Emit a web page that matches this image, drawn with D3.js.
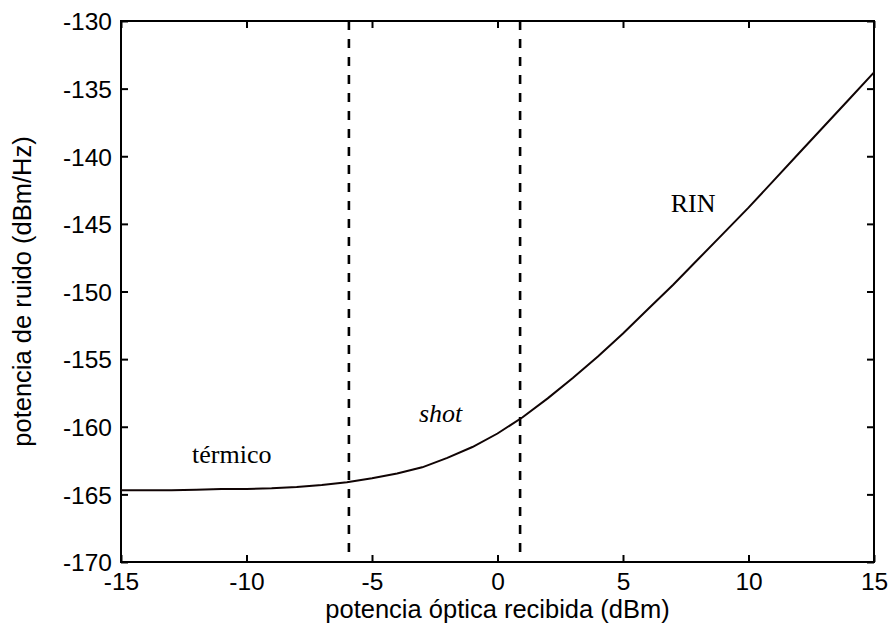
<!DOCTYPE html>
<html>
<head>
<meta charset="utf-8">
<script src="https://cdn.jsdelivr.net/npm/d3@7"></script>
<style>
  body { margin: 0; background: #fff; }
  .tick text { font-family: "Liberation Sans", Arial, sans-serif; font-size: 24.5px; fill: #000; }
  .aText { font-family: "Liberation Sans", Arial, sans-serif; font-size: 25.5px; fill: #000; }
  .note { font-family: "Liberation Serif", "Times New Roman", serif; font-size: 26px; fill: #000; }
</style>
</head>
<body>
<div id="chart"></div>
<script>
// received optical power (dBm) and noise power (dBm/Hz)
var potencia = [-15, -14, -13, -12, -11, -10, -9, -8, -7, -6, -5, -4, -3, -2, -1, 0,
                1, 2, 3, 4, 5, 6, 7, 8, 9, 10, 11, 12, 13, 14, 15];
var ruido = [-164.7, -164.7, -164.7, -164.65, -164.6, -164.6, -164.55, -164.45, -164.3, -164.1,
             -163.8, -163.45, -163.0, -162.3, -161.5, -160.5, -159.3, -157.9, -156.4, -154.8,
             -153.1, -151.3, -149.5, -147.6, -145.7, -143.8, -141.8, -139.8, -137.8, -135.8, -133.8];

// region limits (dashed lines)
var limites = [-5.92, 0.9];

// annotations: text, x, y in data units
var notas = ["térmico", "shot", "RIN"];
var notasX = [-12.17, -3.13, 6.9];
var notasY = [-162.67, -159.62, -144.09];
var notasItalic = [false, true, false];

var xTicks = [-15, -10, -5, 0, 5, 10, 15];
var yTicks = [-170, -165, -160, -155, -150, -145, -140, -135, -130];

var svgWidth = 892;
var svgHeight = 625;
var margin = { top: 21, right: 18, bottom: 63, left: 121 };
var width = svgWidth - margin.left - margin.right;
var height = svgHeight - margin.top - margin.bottom;

var svg = d3.select("#chart")
  .append("svg")
  .attr("width", svgWidth)
  .attr("height", svgHeight);

var chartGroup = svg.append("g")
  .attr("transform", `translate(${margin.left}, ${margin.top})`);

var x = d3.scaleLinear().domain([-15, 15]).range([0, width]);
var y = d3.scaleLinear().domain([-170, -130]).range([height, 0]);

// plain hyphen for negatives, like the original
var fmt = d => String(d);

// axes with inward ticks
var bottomAxis = d3.axisBottom(x).tickValues(xTicks).tickFormat(fmt).tickSizeInner(-7).tickSizeOuter(0).tickPadding(13);
var leftAxis = d3.axisLeft(y).tickValues(yTicks).tickFormat(fmt).tickSizeInner(-7).tickSizeOuter(0).tickPadding(9);
var topAxis = d3.axisTop(x).tickValues(xTicks).tickSizeInner(-7).tickSizeOuter(0).tickFormat("");
var rightAxis = d3.axisRight(y).tickValues(yTicks).tickSizeInner(-7).tickSizeOuter(0).tickFormat("");

var gx = chartGroup.append("g").attr("transform", `translate(0, ${height})`).call(bottomAxis);
var gy = chartGroup.append("g").call(leftAxis);
var gt = chartGroup.append("g").call(topAxis);
var gr = chartGroup.append("g").attr("transform", `translate(${width}, 0)`).call(rightAxis);

[gx, gy, gt, gr].forEach(function(g) {
  g.select(".domain").remove();
  g.selectAll(".tick line").attr("stroke", "#000").attr("stroke-width", 2);
});
gx.selectAll(".tick text").attr("dy", "0.6em");
gy.selectAll(".tick text").attr("dy", "0.36em");

// frame
chartGroup.append("rect")
  .attr("width", width)
  .attr("height", height)
  .attr("fill", "none")
  .attr("stroke", "#000")
  .attr("stroke-width", 2);

// dashed region limits
chartGroup.selectAll(".limite")
  .data(limites)
  .enter()
  .append("line")
  .attr("x1", d => x(d))
  .attr("x2", d => x(d))
  .attr("y1", 0)
  .attr("y2", height)
  .attr("stroke", "#000")
  .attr("stroke-width", 2.6)
  .attr("stroke-dasharray", "9,9");

// noise curve
var line = d3.line()
  .x((d, i) => x(potencia[i]))
  .y(d => y(d));

chartGroup.append("path")
  .datum(ruido)
  .attr("d", line)
  .attr("fill", "none")
  .attr("stroke", "#100404")
  .attr("stroke-width", 2);

// annotations
chartGroup.selectAll(".note")
  .data(notas)
  .enter()
  .append("text")
  .attr("class", "note")
  .attr("x", (d, i) => x(notasX[i]))
  .attr("y", (d, i) => y(notasY[i]))
  .style("font-style", (d, i) => notasItalic[i] ? "italic" : "normal")
  .text(d => d);

// axis labels
chartGroup.append("text")
  .attr("class", "aText")
  .attr("text-anchor", "middle")
  .attr("x", width / 2)
  .attr("y", height + 56)
  .text("potencia óptica recibida (dBm)");

chartGroup.append("text")
  .attr("class", "aText")
  .attr("text-anchor", "middle")
  .attr("transform", "rotate(-90)")
  .attr("x", -height / 2)
  .attr("y", -margin.left + 31)
  .text("potencia de ruido (dBm/Hz)");
</script>
</body>
</html>
